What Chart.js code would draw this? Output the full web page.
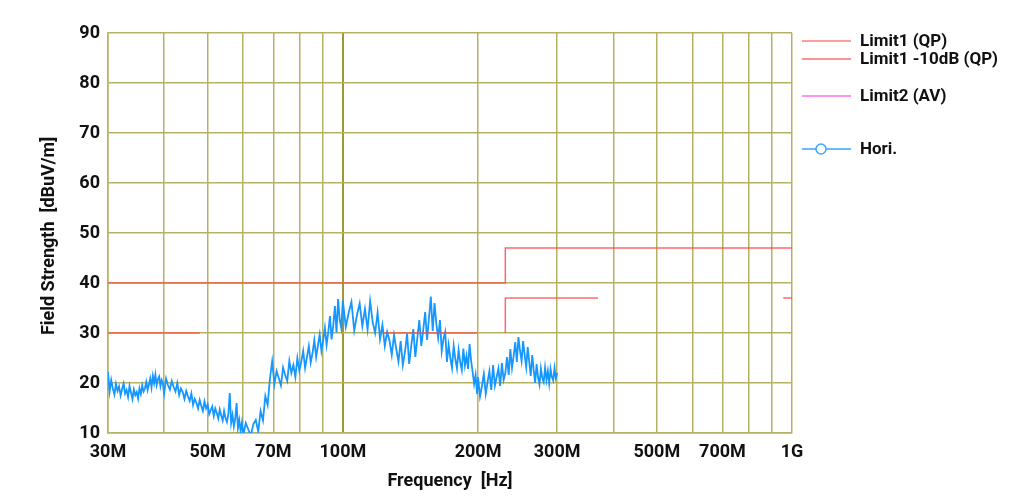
<!DOCTYPE html>
<html>
<head>
<meta charset="utf-8">
<script src="https://cdn.jsdelivr.net/npm/chart.js@4.4.1/dist/chart.umd.min.js"></script>
<style>
  html, body { margin: 0; padding: 0; background: #fff; }
  #wrap { width: 1024px; height: 501px; }
</style>
</head>
<body>
<div id="wrap"><canvas id="chart" width="1024" height="501"></canvas></div>
<script>
// Radiated emission plot, 30M - 1G, log frequency axis

// x grid lines (MHz) and which of them get a label
const gridFreqs = [30, 40, 50, 60, 70, 80, 90, 100, 200, 300, 400, 500, 600, 700, 800, 900, 1000];
const freqLabels = { 30: '30M', 50: '50M', 70: '70M', 100: '100M', 200: '200M', 300: '300M', 500: '500M', 700: '700M', 1000: '1G' };

// Limit1 (QP)
const limit1Freq = [30, 230, 230, 1000];
const limit1Level = [40, 40, 47, 47];

// Limit1 -10dB (QP), drawn in pieces (null = gap)
const limit1m10Freq = [30, 48, 48, 123, 199, 199, 230, 230, 370, 370, 956, 1000];
const limit1m10Level = [30, 30, null, 30, 30, null, 30, 37, 37, null, 37, 37];

// Hori. trace
const horiFreqA = [30, 30.25, 30.5, 30.75, 31, 31.25, 31.5, 31.75, 32, 32.25, 32.5, 32.75, 33, 33.25, 33.5, 33.75, 34, 34.25, 34.5, 34.75,
  35, 35.25, 35.5, 35.75, 36, 36.25, 36.5, 36.75, 37, 37.25, 37.5, 37.75, 38, 38.25, 38.5, 38.75, 39, 39.25, 39.5, 39.75];
const horiLevelA = [22.2, 18.3, 20.6, 18.9, 17.7, 19.8, 18.4, 19.3, 17.5, 18.8, 19.9, 17.9, 18.6, 17.2, 19.4, 18.1, 16.8, 18.7, 17.6, 18.2,
  16.9, 18.9, 17.8, 19.5, 18.3, 18.9, 20.2, 18.6, 19.7, 20.9, 19.1, 21.4, 20.0, 21.7, 19.6, 20.8, 21.3, 19.4, 20.6, 19.9];

const horiFreqB = [40, 40.4, 40.8, 41.2, 41.6, 42, 42.4, 42.8, 43.2, 43.6, 44, 44.4, 44.8, 45.2, 45.6, 46, 46.4, 46.8, 47.2, 47.6,
  48, 48.4, 48.8, 49.2, 49.6, 50, 50.4, 50.8, 51.2, 51.6, 52, 52.4, 52.8, 53.2, 53.6, 54, 54.4, 54.8, 55.2, 55.6,
  56, 56.4, 56.8, 57.2, 57.6, 58, 58.4, 58.8, 59.2, 59.6];
const horiLevelB = [17.9, 20.9, 19.6, 18.7, 20.4, 19.2, 18.3, 20.0, 17.6, 18.9, 18.2, 16.8, 18.4, 17.3, 16.4, 17.9, 15.6, 16.8, 16.0, 14.9,
  16.6, 15.4, 14.4, 16.3, 14.9, 15.7, 13.8, 14.6, 15.3, 13.4, 14.9, 14.0, 12.9, 14.7, 13.5, 12.5, 14.4, 13.0, 12.2, 13.8,
  18.0, 12.0, 13.6, 11.3, 12.8, 16.0, 11.0, 12.6, 10.4, 12.1];

const horiFreqC = [60, 60.8, 61.6, 62.4, 63.2, 64, 64.8, 65.6, 66.4, 67.2, 68, 68.8, 69.6, 70.4, 71.2, 72, 72.8, 73.6, 74.4, 75.2,
  76, 76.8, 77.6, 78.4, 79.2, 80, 80.8, 81.6, 82.4, 83.2, 84, 84.8, 85.6, 86.4, 87.2, 88, 88.8, 89.6, 90.4, 91.2,
  92, 92.8, 93.6, 94.4, 95.2, 96, 96.8, 97.6, 98.4, 99.2];
const horiLevelC = [9.6, 12.0, 10.7, 9.5, 11.8, 12.6, 10.3, 14.4, 12.5, 17.4, 15.6, 20.8, 24.3, 19.8, 22.4, 21.0, 19.5, 23.1, 21.6, 20.4,
  24.4, 22.0, 23.6, 21.2, 25.0, 22.5, 24.3, 26.4, 23.0, 25.2, 27.4, 24.1, 26.0, 28.6, 25.2, 27.5, 29.7, 26.4, 28.5, 31.0,
  27.6, 30.2, 33.4, 28.7, 31.5, 35.4, 30.1, 36.8, 32.6, 31.0];

const horiFreqD = [100, 101.5, 103, 104.5, 106, 107.5, 109, 110.5, 112, 113.5, 115, 116.5, 118, 119.5, 121, 122.5, 124, 125.5, 127, 128.5,
  130, 131.5, 133, 134.5, 136, 137.5, 139, 140.5, 142, 143.5, 145, 146.5, 148, 149.5, 151, 152.5, 154, 155.5, 157, 158.5,
  160, 161.5, 163, 164.5, 166, 167.5, 169, 170.5, 172, 173.5, 175, 176.5, 178, 179.5, 181, 182.5, 184, 185.5, 187, 188.5,
  190, 191.5, 193, 194.5, 196, 197.5, 199];
const horiLevelD = [36.5, 31.2, 34.0, 36.2, 30.5, 33.6, 35.9, 31.4, 34.8, 30.7, 36.4, 32.2, 30.0, 34.1, 28.8, 31.6, 27.4, 30.2, 28.5, 25.6,
  29.6, 26.8, 24.3, 28.4, 23.6, 26.2, 29.9, 23.8, 27.4, 30.8, 25.2, 29.0, 32.6, 27.4, 30.6, 34.2, 28.6, 33.0, 37.3, 30.4,
  36.0, 31.8, 29.0, 32.6, 26.4, 28.8, 30.2, 24.2, 27.6, 25.0, 23.0, 27.4, 24.8, 22.9, 26.6, 24.2, 22.6, 26.9, 23.5, 25.4,
  22.8, 27.8, 24.5, 22.2, 19.8, 21.6, 17.8];

const horiFreqE = [200, 202, 204, 206, 208, 210, 212, 214, 216, 218, 220, 222, 224, 226, 228, 230, 232, 234, 236, 238,
  240, 242, 244, 246, 248, 250, 252, 254, 256, 258, 260, 262, 264, 266, 268, 270, 272, 274, 276, 278,
  280, 282, 284, 286, 288, 290, 292, 294, 296, 298, 300];
const horiLevelE = [21.2, 17.3, 19.4, 21.8, 17.8, 20.2, 22.4, 18.6, 23.6, 19.5, 21.2, 22.9, 19.4, 24.0, 20.6, 22.0, 25.2, 21.6, 26.8, 23.0,
  25.4, 28.2, 24.2, 29.2, 26.4, 24.4, 28.4, 25.6, 23.2, 27.2, 24.2, 21.4, 25.6, 22.6, 20.0, 23.8, 21.2, 19.7, 22.9, 21.0,
  20.2, 23.1, 20.6, 22.4, 19.9, 22.8, 21.2, 20.5, 23.0, 21.0, 22.0];

const horiFreq = [].concat(horiFreqA, horiFreqB, horiFreqC, horiFreqD, horiFreqE);
const horiLevel = [].concat(horiLevelA, horiLevelB, horiLevelC, horiLevelD, horiLevelE);

const toPoints = (xs, ys) => xs.map((x, i) => ({ x: x, y: ys[i] }));

const gridColor = '#b7b163';
const gridDark = '#9e9830';
const textColor = '#111111';
const tickFont = { family: 'Roboto, sans-serif', size: 18, weight: 'bold' };
const limitColor = 'rgba(255, 70, 70, 0.8)';
const traceColor = '#1597ff';

// legend + axis titles drawn by hand (legend spacing in the original is uneven)
const legendItems = [
  { text: 'Limit1 (QP)', color: '#ff7b7b', y: 41, marker: false },
  { text: 'Limit1 -10dB (QP)', color: '#ff6f6f', y: 59, marker: false },
  { text: 'Limit2 (AV)', color: '#ff6cf0', y: 96, marker: false },
  { text: 'Hori.', color: '#3aa6ff', y: 149, marker: true }
];

const decorPlugin = {
  id: 'decor',
  afterDraw(chart) {
    const ctx = chart.ctx;
    const area = chart.chartArea;
    ctx.save();
    // legend
    ctx.font = 'bold 17px Roboto, sans-serif';
    ctx.textBaseline = 'middle';
    ctx.textAlign = 'left';
    legendItems.forEach(item => {
      ctx.strokeStyle = item.color;
      ctx.lineWidth = 1.5;
      ctx.beginPath();
      ctx.moveTo(802, item.y);
      ctx.lineTo(851, item.y);
      ctx.stroke();
      if (item.marker) {
        ctx.fillStyle = '#fff';
        ctx.beginPath();
        ctx.arc(821, item.y, 5, 0, Math.PI * 2);
        ctx.fill();
        ctx.stroke();
      }
      ctx.fillStyle = textColor;
      ctx.fillText(item.text, 860, item.y + 1);
    });
    // axis titles
    ctx.font = 'bold 18px Roboto, sans-serif';
    ctx.textAlign = 'center';
    ctx.fillText('Frequency  [Hz]', (area.left + area.right) / 2, 481);
    ctx.translate(49, (area.top + area.bottom) / 2 + 3);
    ctx.rotate(-Math.PI / 2);
    ctx.fillText('Field Strength  [dBuV/m]', 0, 0);
    ctx.restore();
  }
};

new Chart(document.getElementById('chart'), {
  type: 'line',
  data: {
    datasets: [
      {
        label: 'Limit1 (QP)',
        data: toPoints(limit1Freq, limit1Level),
        borderColor: limitColor,
        borderWidth: 1.5,
        pointRadius: 0,
        tension: 0
      },
      {
        label: 'Limit1 -10dB (QP)',
        data: toPoints(limit1m10Freq, limit1m10Level),
        borderColor: limitColor,
        borderWidth: 1.5,
        pointRadius: 0,
        spanGaps: false,
        tension: 0
      },
      {
        label: 'Hori.',
        data: toPoints(horiFreq, horiLevel),
        borderColor: traceColor,
        borderWidth: 1.8,
        pointRadius: 0,
        tension: 0,
        clip: 0
      }
    ]
  },
  options: {
    responsive: false,
    animation: false,
    devicePixelRatio: 1,
    layout: { padding: { left: 0, right: 232, top: 33, bottom: 0 } },
    plugins: {
      legend: { display: false },
      tooltip: { enabled: false }
    },
    scales: {
      x: {
        type: 'logarithmic',
        min: 30,
        max: 1000,
        afterBuildTicks: scale => { scale.ticks = gridFreqs.map(v => ({ value: v })); },
        afterFit: scale => { scale.height = 68; },
        ticks: {
          autoSkip: false,
          maxRotation: 0,
          padding: 9,
          color: textColor,
          font: tickFont,
          callback: value => freqLabels[value] || ''
        },
        grid: {
          drawTicks: false,
          color: c => (c.tick && c.tick.value === 100 ? gridDark : gridColor),
          lineWidth: c => (c.tick && c.tick.value === 100 ? 2 : 1.5)
        },
        border: { display: true, color: gridColor, width: 1.5 }
      },
      y: {
        min: 10,
        max: 90,
        afterFit: scale => { scale.width = 108; },
        ticks: {
          stepSize: 10,
          padding: 8,
          color: textColor,
          font: tickFont
        },
        grid: {
          drawTicks: false,
          color: gridColor,
          lineWidth: 1.5
        },
        border: { display: true, color: gridColor, width: 1.5 }
      }
    }
  },
  plugins: [decorPlugin]
});
</script>
</body>
</html>
